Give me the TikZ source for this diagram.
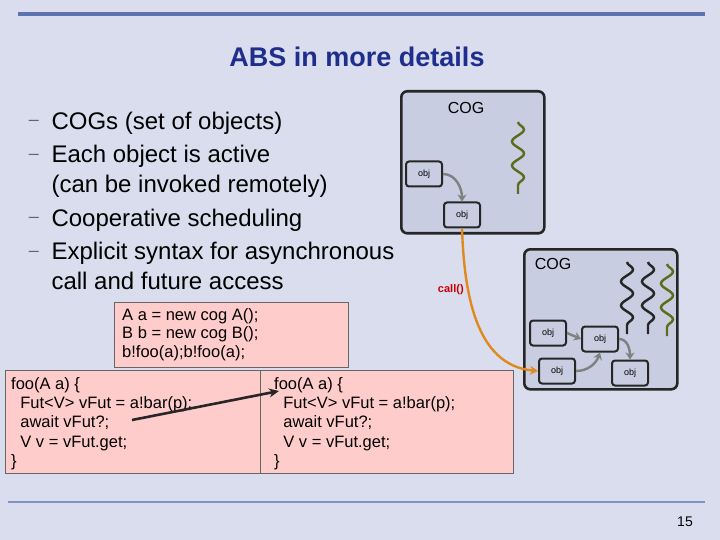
\documentclass[tikz,border=0pt]{standalone}
\usepackage{fontspec}
\setmainfont{Liberation Sans}
\usetikzlibrary{decorations.pathmorphing,arrows.meta}
\definecolor{bg}{HTML}{D9DDED}
\definecolor{cogf}{HTML}{C9CDE1}
\definecolor{pinkf}{HTML}{FFCCCC}
\definecolor{titlec}{HTML}{1F2E8C}
\definecolor{grn}{HTML}{5A6E1A}
\definecolor{org}{HTML}{E08A1E}
\definecolor{barc}{HTML}{5B73AE}
\begin{document}
\begin{tikzpicture}[x=1pt,y=-1pt,
  cog/.style={draw=black!85,line width=2.6pt,rounded corners=6pt,fill=cogf},
  obj/.style={draw=black!85,line width=2pt,rounded corners=3pt,fill=cogf,minimum width=36pt,minimum height=25pt,font=\fontsize{9}{10}\selectfont,inner sep=0pt},
  code/.style={draw=black!60,line width=0.8pt,fill=pinkf,anchor=north west,align=left,inner sep=0pt},
  ctext/.style={anchor=north west,align=left,font=\fontsize{16.5}{19.3}\selectfont,inner sep=0pt},
  bul/.style={anchor=west,align=left,font=\fontsize{24}{29.5}\selectfont},
  wig/.style={line width=2.4pt,decorate,decoration={snake,amplitude=6pt,segment length=24pt}},
  garr/.style={draw=gray,line width=2.4pt,-{Stealth[length=7pt,width=9pt]}}]
\fill[bg] (0,0) rectangle (720,540);
\useasboundingbox (0,0) rectangle (720,540);
\draw[line width=4pt,color=barc] (18,14) -- (705,14);
\draw[line width=2pt,color=barc!70!bg] (8,502) -- (705,502);
\node[font=\bfseries\fontsize{27}{30}\selectfont,text=titlec] (title) at (357,57) {ABS in more details};
% bullets
\foreach \yy/\nm in {123/d1,157/d2,220/d3,254/d4}{\node[font=\fontsize{18}{20}\selectfont,text=black!60] (\nm) at (34,\yy) {–};}
\node[bul] (b1) at (48,123) {COGs (set of objects)};
\node[bul,anchor=north west] (b2) at (48,142) {Each object is active\\(can be invoked remotely)};
\node[bul] (b3) at (48,220) {Cooperative scheduling};
\node[bul,anchor=north west] (b4) at (48,239) {Explicit syntax for asynchronous\\call and future access};
% COG 1
\node[cog,minimum width=143pt,minimum height=142pt,anchor=north west] (cog1) at (400,90) {};
\node[font=\fontsize{16}{18}\selectfont] (cog1t) at (466,108) {COG};
\draw[wig,grn] (518,122) -- (518,194);
\node[obj] (o1) at (424,174) {obj};
\node[obj] (o2) at (462,215) {obj};
\draw[garr] (o1.east) to[out=0,in=90] (o2.north);
% COG 2
\node[cog,minimum width=153pt,minimum height=140pt,anchor=north west] (cog2) at (523,248) {};
\node[font=\fontsize{16}{18}\selectfont] (cog2t) at (553,264) {COG};
\draw[wig,black!85] (627,262) -- (627,334);
\draw[wig,black!85] (648,262) -- (648,334);
\draw[wig,grn] (667,264) -- (667,336);
\node[obj] (p1) at (548,333) {obj};
\node[obj] (p2) at (600,339) {obj};
\node[obj] (p3) at (557,371) {obj};
\node[obj] (p4) at (630,373) {obj};
\draw[garr] (p1.east) -- (p2.west);
\draw[garr] (p3.east) to[out=0,in=-110] (p2.south);
\draw[garr] (p2.east) to[out=0,in=90] (p4.north);
% call arrow
\draw[org,line width=2.4pt,-{Stealth[length=8pt,width=9pt]}] (o2.south) to[out=-88,in=175] node[pos=0.32,left=0pt,text=red!80!black,font=\bfseries\fontsize{11}{12}\selectfont] (callt) {call()} (p3.west);
% code boxes
\node[code,minimum width=234pt,minimum height=65pt] (ca) at (114,302) {};
\node[ctext,font=\fontsize{16.5}{18.5}\selectfont] (cat) at (122,308) {A a = new cog A();\\B b = new cog B();\\b!foo(a);b!foo(a);};
\node[code,minimum width=255pt,minimum height=103pt] (cl) at (5,370) {};
\node[code,minimum width=253pt,minimum height=103pt] (cr) at (260,370) {};
\node[ctext] (clt) at (11,377) {foo(A a) \{\\\ \ Fut<V> vFut = a!bar(p);\\\ \ await vFut?;\\\ \ V v = vFut.get;\\\}};
\node[ctext] (crt) at (274,377) {foo(A a) \{\\\ \ Fut<V> vFut = a!bar(p);\\\ \ await vFut?;\\\ \ V v = vFut.get;\\\}};
\coordinate (ast) at (132,420);
\coordinate (aen) at (279,391);
\draw[line width=2.6pt,black!85,-{Stealth[length=10pt,width=9pt]}] (ast) -- (aen);
\node[font=\fontsize{14}{15}\selectfont] (pg) at (685,522) {15};
\end{tikzpicture}
\end{document}
